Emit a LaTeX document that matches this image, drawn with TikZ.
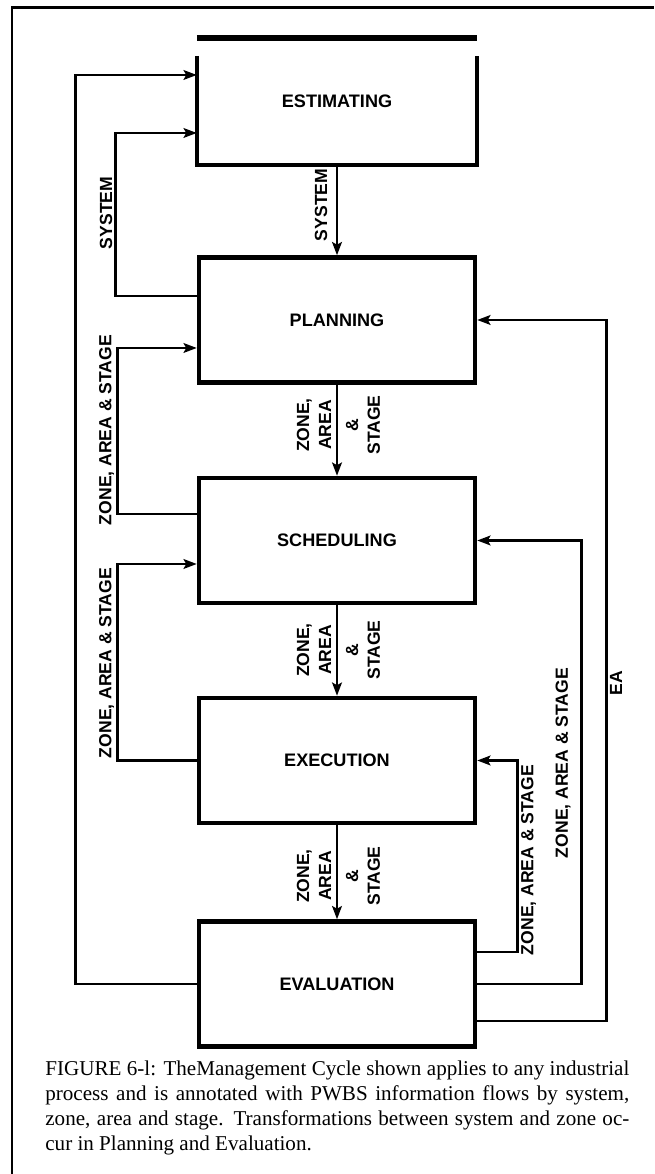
\documentclass[tikz,border=0pt]{standalone}
\usepackage{fontspec}
\setmainfont{Liberation Serif}
\setsansfont{Liberation Sans}
\usetikzlibrary{calc,arrows.meta}

\begin{document}
\begin{tikzpicture}[>={Stealth[length=7.5pt,width=5.5pt,inset=1.5pt]},
  phase/.style={draw, line width=2.5pt, minimum width=5.52cm, minimum height=2.5cm, inner sep=0pt,
    font=\sffamily\bfseries\fontsize{10.3}{12}\selectfont},
  flow/.style={->, line width=1.6pt},
  flowtag/.style={rotate=90, align=center, inner sep=0pt,
    font=\sffamily\bfseries\fontsize{10}{12.5}\selectfont}]
  \useasboundingbox (0,0) rectangle (13.08,23.48);
  % frame
  \draw[line width=1.7pt] (0.24,0) -- (0.24,23.32) -- (13.08,23.32);
  % the five stages
  \node[phase, draw=none, minimum height=2.46cm] (est) at (6.74,21.45) {ESTIMATING};
  \draw[line width=3.1pt] (est.north west) -- (est.north east);
  \draw[line width=2.5pt] ([yshift=-0.36cm]est.north west) -- (est.south west)
    -- (est.south east) -- ([yshift=-0.36cm]est.north east);
  \node[phase] (plan) at (6.74,17.08) {PLANNING};
  \node[phase] (sched) at (6.74,12.67) {SCHEDULING};
  \node[phase] (exec) at (6.74,8.27) {EXECUTION};
  \node[phase] (eval) at (6.74,3.80) {EVALUATION};
  % flows down the cycle
  \draw[flow] (est) -- (plan);
  \draw[flow] (plan) -- (sched);
  \draw[flow] (sched) -- (exec);
  \draw[flow] (exec) -- (eval);
  \node[flowtag] (tsys) at (6.42,19.38) {SYSTEM};
  \node[flowtag] (tza1) at (6.28,14.98) {ZONE,\\AREA};
  \node[flowtag] (tst1) at (7.26,14.98) {\&\\STAGE};
  \node[flowtag] (tza2) at (6.28,10.48) {ZONE,\\AREA};
  \node[flowtag] (tst2) at (7.26,10.48) {\&\\STAGE};
  \node[flowtag] (tza3) at (6.28,5.96) {ZONE,\\AREA};
  \node[flowtag] (tst3) at (7.26,5.96) {\&\\STAGE};
  % feedback, left side
  \draw[flow] ([yshift=0.48cm]plan.west) -- ++(-1.62,0) |- ([yshift=-0.63cm]est.west);
  \draw[flow] (eval.west) -- ++(-2.43,0) |- ([yshift=0.53cm]est.west);
  \draw[flow] ([yshift=0.53cm]sched.west) -- ++(-1.58,0) |- ([yshift=-0.56cm]plan.west);
  \draw[flow] (exec.west) -- ++(-1.58,0) |- ([yshift=-0.47cm]sched.west);
  \node[flowtag] (tsysl) at (2.12,19.22) {SYSTEM};
  \node[flowtag] (tzl1) at (2.13,14.88) {ZONE, AREA \& STAGE};
  \node[flowtag] (tzl2) at (2.13,10.22) {ZONE, AREA \& STAGE};
  % feedback, right side
  \draw[flow] ([yshift=0.64cm]eval.east) -- ++(0.80,0) |- (exec.east);
  \draw[flow] (eval.east) -- ++(2.08,0) |- (sched.east);
  \draw[flow] ([yshift=-0.74cm]eval.east) -- ++(2.58,0) |- (plan.east);
  \node[flowtag] (tzr1) at (10.57,6.28) {ZONE, AREA \& STAGE};
  \node[flowtag] (tzr2) at (11.26,8.22) {ZONE, AREA \& STAGE};
  \node[flowtag] (tea) at (12.32,9.82) {EA};
  % caption
  \node[anchor=north west, inner sep=0pt, text width=11.68cm, align=justify,
    font=\fontsize{12}{14.2}\selectfont] (cap) at (0.90,2.27)
    {FIGURE 6-l: TheManagement Cycle shown applies to any industrial\linebreak
     process and is annotated with PWBS information flows by system,\linebreak
     zone, area and stage. Transformations between system and zone oc-\linebreak
     cur in Planning and Evaluation.};
\end{tikzpicture}
\end{document}
